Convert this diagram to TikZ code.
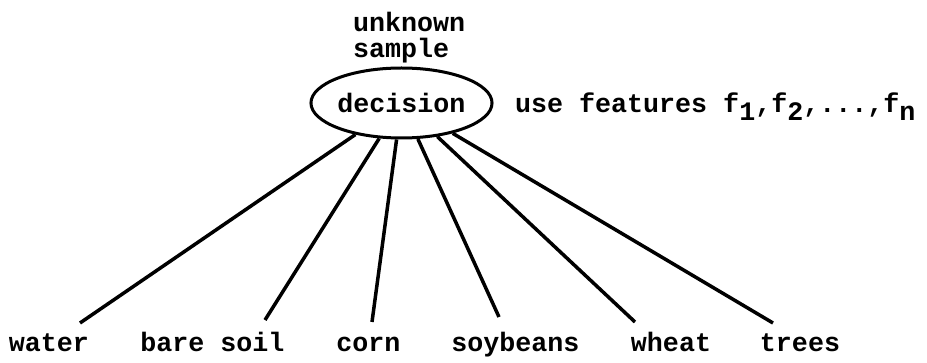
\documentclass[tikz,border=0pt]{standalone}
\usepackage{fontspec}
\setmonofont{Liberation Mono}
\usetikzlibrary{shapes.geometric}
\begin{document}
\begin{tikzpicture}[x=1pt,y=-1pt,font=\ttfamily\bfseries\fontsize{26.67}{26}\selectfont]
\useasboundingbox (0,0) rectangle (927,363);
\node[anchor=base west, align=left, inner sep=0] (sample) at (353,58) {unknown\\sample};
\node[draw, ellipse, line width=3pt, minimum width=160, minimum height=70, inner sep=0] (decision) at (401.5,103) {decision};
\node[anchor=base west, inner sep=0] (features) at (515,113) {use features f\raisebox{-8pt}{1},f\raisebox{-8pt}{2},...,f\raisebox{-8pt}{n}};

\node[anchor=base, inner sep=0] (water) at (49,352) {water};
\node[anchor=base, inner sep=0] (soil) at (212.5,352) {bare soil};
\node[anchor=base, inner sep=0] (corn) at (368.5,352) {corn};
\node[anchor=base, inner sep=0] (soybeans) at (515.5,352) {soybeans};
\node[anchor=base, inner sep=0] (wheat) at (671,352) {wheat};
\node[anchor=base, inner sep=0] (trees) at (800,352) {trees};

\coordinate (w) at (80,323);
\coordinate (s) at (265,320);
\coordinate (c) at (372,322);
\coordinate (y) at (499,317);
\coordinate (h) at (635,322);
\coordinate (t) at (773,323);

\draw[line width=3.5pt] (decision) -- (w);
\draw[line width=3.5pt] (decision) -- (s);
\draw[line width=3.5pt] (decision) -- (c);
\draw[line width=3.5pt] (decision) -- (y);
\draw[line width=3.5pt] (decision) -- (h);
\draw[line width=3.5pt] (decision) -- (t);
\end{tikzpicture}
\end{document}
